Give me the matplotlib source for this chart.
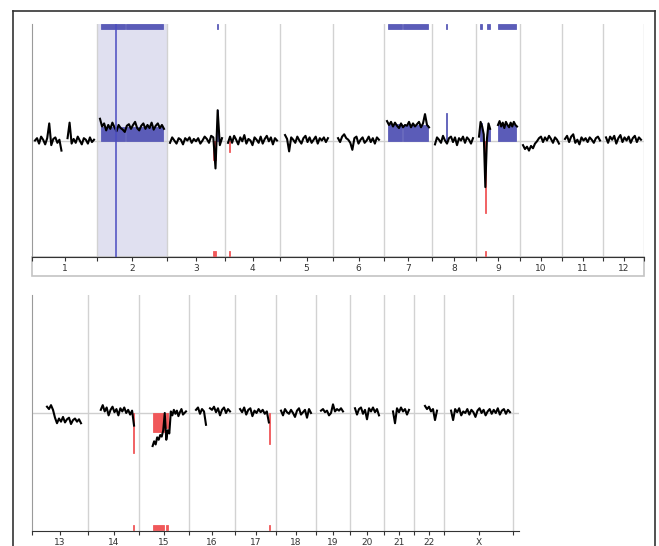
import numpy as np
import matplotlib
matplotlib.use("Agg")
import matplotlib.pyplot as plt
from matplotlib.patches import Rectangle
from matplotlib.lines import Line2D

# Array CGH genome view: log2 ratio (x100) per chromosome, two rows

G = None  # no probes (centromere / acrocentric arm)

top_names = ['1', '2', '3', '4', '5', '6', '7', '8', '9', '10', '11', '12']
top_len = [65, 70, 58, 55, 53, 51, 48, 44, 44, 42, 41, 41]
bottom_names = ['13', '14', '15', '16', '17', '18', '19', '20', '21', '22', 'X']
bottom_len = [56, 51, 50, 46, 41, 40, 34, 34, 30, 30, 69]

# probe traces (log ratio x100), evenly spread over each chromosome
chr1 = [0, 3, -4, 5, 1, -5, 3, 22, -6, 2, 4, -3, 1, -13, G, G, 3, 23, -4, 2, -3, 5, 0, -5, 3, 1, -4, 4, -2, 1]
chr2 = [28, 18, 22, 13, 20, 15, 23, 17, 12, 20, 16, 14, 11, 19, 21, 15, 20, 24, 16, 13, 19, 22, 15, 20, 16, 23, 14, 19, 22, 16, 20, 15]
chr3 = [-3, 4, 0, -4, 3, 1, -5, 3, 0, 4, -3, 2, -1, 3, -4, 0, 5, 2, -3, 6, 4, -36, 39, -6, 3]
chr4 = [-3, 5, -3, 6, 1, -5, 4, -1, 7, -4, 2, 0, -6, 4, 1, -3, 5, -4, 2, 6, -1, 4, -5, 3, 0]
chr5 = [G, 7, 2, -14, 4, 1, -3, 5, 0, -4, 3, 6, -2, 4, -3, 1, 5, -4, 3, 0, 4, -2, 3, G]
chr6 = [G, 3, -2, 5, 8, 3, 1, -3, -12, 3, 5, -4, 1, 4, -3, 0, 5, -2, 3, -4, 4, 1, G]
chr7 = [25, 20, 24, 18, 23, 19, 16, 22, 17, 20, 19, 24, 17, 22, 18, 21, 24, 17, 22, 34, 20, 17]
chr8 = [-5, 4, 1, -3, 6, 0, -4, 3, 5, -2, 4, -6, 3, 0, 5, -3, 4, 1, -4, 3]
chr9 = [5, 24, 18, 8, -60, 2, 22, 15, G, G, G, G, 20, 25, 18, 23, 16, 24, 20, 17, 23, 18, 24, 20, 18]
chr10 = [-6, -11, -8, -13, -7, -10, -4, -1, 3, 5, -2, 4, 0, 6, 2, -3, 4, 1, -4]
chr11 = [2, 6, -2, 5, 8, -3, 1, -5, 4, 0, 3, -2, 4, 1, -3, 3, 5, 0]
chr12 = [4, -3, 5, 1, 6, -4, 3, 7, -2, 4, 0, 5, -3, 3, 6, -2, 4, 1]
chr13 = [G, G, G, G, G, G, 8, 5, 10, 4, -6, -13, -7, -11, -5, -12, -8, -6, -14, -9, -7, -11, -8, -13, G, G]
chr14 = [G, G, G, G, G, 4, 10, 2, 7, -3, 4, 8, 1, 5, -3, 6, 2, 7, 0, 4, -2, 3, -16, G]
chr15 = [G, G, G, G, G, G, G, -42, -36, -40, -31, -34, -28, -30, -22, 0, -34, -22, -26, 2, -3, 4, -1, 3, -4, 1, 5, -2, 0, 2]
chr16 = [G, G, 4, 7, -1, 5, 2, -15, G, 6, 4, 8, 1, 6, -3, 4, 7, 0, 5, 2, G]
chr17 = [G, 5, 1, 7, -2, 4, 6, -4, 3, 0, 5, 1, 4, -1, 2, -12, G, G]
chr18 = [G, 3, -3, 5, 1, -1, 4, 0, -5, 3, 6, -2, 1, 4, -6, 5, 0, G]
chr19 = [G, 3, 5, 1, 3, -3, 0, 11, 2, 5, 3, 6, 2, G, G]
chr20 = [G, 6, -2, 5, 7, -1, 4, -8, 6, 2, 7, 1, 5, -3, G]
chr21 = [G, G, G, 2, -13, 6, 1, 7, 2, 5, -2, 4, G]
chr22 = [G, G, G, G, 9, 5, 8, 2, 5, -9, 3, G, G]
chrX = [G, G, 3, -9, 5, 1, 6, -3, 2, 0, 5, -2, 4, 1, -5, 3, 6, 0, 4, -3, 2, 5, -1, 4, 0, 6, -2, 3, 5, -1, 4, 1]

traces = {'1': chr1, '2': chr2, '3': chr3, '4': chr4, '5': chr5, '6': chr6,
          '7': chr7, '8': chr8, '9': chr9, '10': chr10, '11': chr11, '12': chr12,
          '13': chr13, '14': chr14, '15': chr15, '16': chr16, '17': chr17,
          '18': chr18, '19': chr19, '20': chr20, '21': chr21, '22': chr22, 'X': chrX}

# aberration calls (chromosome, start, end within chromosome, mean level x100)
call_chrom = ['2', '2', '3', '3', '4', '7', '7', '8', '9', '9', '9', '9', '14', '15', '15', '17']
call_start = [4, 29, 46, 49.5, 3.5, 3.5, 19, 13.5, 3.5, 9, 11, 22, 45, 13.5, 26.5, 33.5]
call_end = [28, 66, 48.5, 51, 4.5, 17.5, 44, 14.5, 5.5, 10, 14, 40, 46.2, 25, 29, 34.5]
call_level = [17, 17, -25, 39, -15, 21, 20, 36, 22, -93, 16, 20, -51, -24, -19, -39]

highlight_chrom = '2'
cursor_pos = 19  # selected probe in chromosome 2

BLUE = '#5b5cb8'
RED = '#f0585a'
PAD = 3

fig = plt.figure(figsize=(6.59, 5.46), dpi=100)
ax_top = fig.add_axes([32 / 659, 1 - 257 / 546, 612 / 659, 233 / 546])
ax_bot = fig.add_axes([32 / 659, 1 - 531 / 546, 487 / 659, 236 / 546])


def draw_row(ax, names, lengths, extra):
    starts = np.concatenate([[0], np.cumsum(lengths)[:-1]])
    ends = np.cumsum(lengths)
    offset = dict(zip(names, starts))
    ax.set_xlim(0, ends[-1] + extra)
    ax.set_ylim(-150, 150)

    for name, s, e in zip(names, starts, ends):
        if name == highlight_chrom:
            ax.axvspan(s, e, color='#e0e0f0', zorder=0, lw=0)
            ax.axvline(s + cursor_pos, color='#4b4cc0', lw=1.1, zorder=4)
    for b in ends:
        ax.axvline(b, color='#d2d2d2', lw=1, zorder=1)
    ax.axhline(0, color='#cfcfcf', lw=1, zorder=1)

    for c, a, b, lv in zip(call_chrom, call_start, call_end, call_level):
        if c not in offset:
            continue
        x0 = offset[c] + a
        col = BLUE if lv > 0 else RED
        kw = dict(width=b - a, align='edge', color=col, edgecolor=col, lw=0.6, zorder=2)
        ax.bar(x0, lv, **kw)
        if lv > 0:
            ax.bar(x0, 5.5, bottom=144, **kw)
        else:
            ax.bar(x0, 7, bottom=-149, **kw)

    for name, s, ln in zip(names, starts, lengths):
        vals = np.array(traces[name], dtype=float)
        xs = s + np.linspace(PAD, ln - PAD, len(vals))
        ax.plot(xs, vals, color='black', lw=1.5, zorder=3)

    centers = starts + np.array(lengths) / 2
    ax.set_xticks(centers)
    ax.set_xticklabels(names, fontsize=6.5, color='#333333')
    ax.set_xticks(np.concatenate([[0], ends]), minor=True)
    ax.tick_params(axis='x', which='both', direction='out', length=3, width=0.8,
                   color='#333333', pad=2)
    ax.set_yticks([])
    for side in ['top', 'right']:
        ax.spines[side].set_visible(False)
    ax.spines['left'].set_color('#9a9a9a')
    ax.spines['bottom'].set_color('#333333')
    ax.set_facecolor('white')


draw_row(ax_top, top_names, top_len, 0)
draw_row(ax_bot, bottom_names, bottom_len, 6)

# label strip under the top row
ax_top.add_patch(Rectangle((0, -19 / 233), 1, 19 / 233, transform=ax_top.transAxes,
                           fill=False, edgecolor='#c4c4c4', lw=1.2, clip_on=False))

# outer frame (open at the bottom)
fx0, fx1, fy = 13 / 659, 655 / 659, 1 - 11 / 546
for xs, ys in [([fx0, fx0], [0, fy]), ([fx0, fx1], [fy, fy]), ([fx1, fx1], [fy, 0])]:
    fig.add_artist(Line2D(xs, ys, transform=fig.transFigure, color='#333333', lw=1.2))

fig.savefig('out.png', dpi=100, facecolor='white')
